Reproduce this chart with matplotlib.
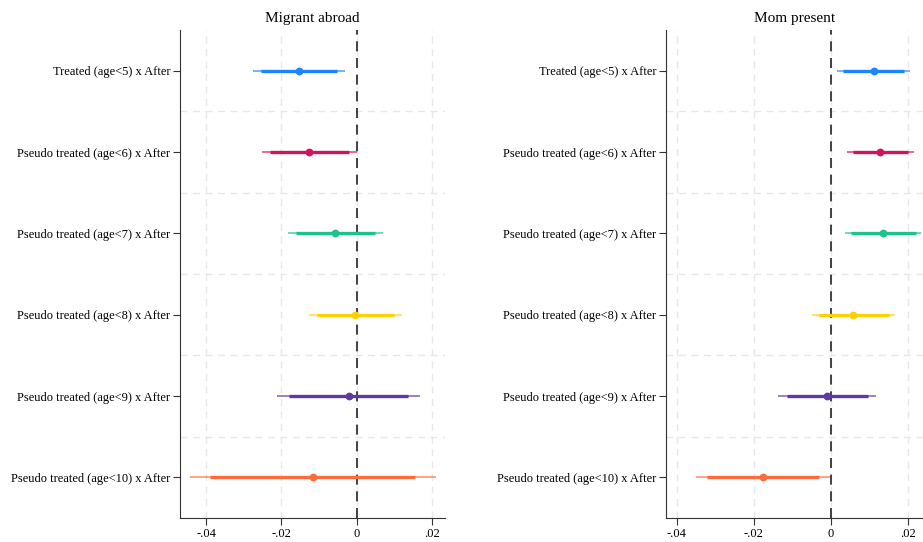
import matplotlib.pyplot as plt
import numpy as np

plt.rcParams['font.family'] = ['Liberation Serif', 'DejaVu Serif']

labels = ['Treated (age<5) x After',
          'Pseudo treated (age<6) x After',
          'Pseudo treated (age<7) x After',
          'Pseudo treated (age<8) x After',
          'Pseudo treated (age<9) x After',
          'Pseudo treated (age<10) x After']
colors = ['#1A85FF', '#D41159', '#1BC488', '#FFD100', '#5D3A9B', '#FF6B3D']

# Migrant abroad
mig_coef = [-0.0153, -0.0126, -0.0057, -0.0004, -0.0020, -0.0117]
mig_lo95 = [-0.0275, -0.0251, -0.0183, -0.0127, -0.0211, -0.0443]
mig_hi95 = [-0.0031, 0.0000, 0.0071, 0.0120, 0.0168, 0.0211]
mig_lo90 = [-0.0254, -0.0230, -0.0162, -0.0106, -0.0179, -0.0390]
mig_hi90 = [-0.0052, -0.0020, 0.0050, 0.0099, 0.0137, 0.0155]

# Mom present
mom_coef = [0.0112, 0.0129, 0.0137, 0.0059, -0.0009, -0.0176]
mom_lo95 = [0.0017, 0.0043, 0.0037, -0.0048, -0.0136, -0.0350]
mom_hi95 = [0.0206, 0.0216, 0.0236, 0.0167, 0.0118, -0.0001]
mom_lo90 = [0.0033, 0.0057, 0.0053, -0.0030, -0.0114, -0.0321]
mom_hi90 = [0.0191, 0.0202, 0.0221, 0.0151, 0.0097, -0.0030]

fig = plt.figure(figsize=(9.23, 5.42), dpi=100)
ax1 = fig.add_axes([180/923, 24/542, 265/923, 488/542])
ax2 = fig.add_axes([666/923, 24/542, 257/923, 488/542])


def panel(ax, title, coef, lo95, hi95, lo90, hi90, xlim):
    y = np.arange(1, len(labels) + 1)
    for i in range(len(labels)):
        ax.plot([lo95[i], hi95[i]], [y[i], y[i]], color=colors[i], lw=1.1, alpha=0.8,
                solid_capstyle='butt', zorder=3)
        ax.plot([lo90[i], hi90[i]], [y[i], y[i]], color=colors[i], lw=2.4,
                solid_capstyle='butt', zorder=4)
        ax.plot(coef[i], y[i], 'o', color=colors[i], ms=4.6, zorder=5)
    ax.axvline(0, color='#222222', lw=1.2, ls=(0, (6, 4)), zorder=2)
    ax.set_xlim(xlim)
    ax.set_ylim(6.5, 0.5)
    ax.set_yticks(y)
    ax.set_yticklabels(labels, fontsize=9)
    ax.set_yticks(np.arange(1.5, 6.5, 1), minor=True)
    ax.set_xticks([-0.04, -0.02, 0, 0.02])
    ax.set_xticklabels(['-.04', '-.02', '0', '.02'], fontsize=9)
    ax.grid(True, axis='x', color='#e8e8e8', ls=(0, (5, 4)), lw=1.0)
    ax.grid(True, axis='y', which='minor', color='#e8e8e8', ls=(0, (5, 4)), lw=1.0)
    ax.tick_params(axis='y', which='minor', length=0)
    ax.tick_params(axis='both', which='major', length=5, width=0.8, colors='#333333',
                   labelcolor='black', pad=2)
    ax.set_axisbelow(True)
    for s in ['top', 'right']:
        ax.spines[s].set_visible(False)
    for s in ['left', 'bottom']:
        ax.spines[s].set_color('#333333')
    ax.set_title(title, fontsize=11, pad=6)


panel(ax1, 'Migrant abroad', mig_coef, mig_lo95, mig_hi95, mig_lo90, mig_hi90, (-0.0469, 0.0235))
panel(ax2, 'Mom present', mom_coef, mom_lo95, mom_hi95, mom_lo90, mom_hi90, (-0.0428, 0.024))

fig.savefig('out.png', dpi=100)
